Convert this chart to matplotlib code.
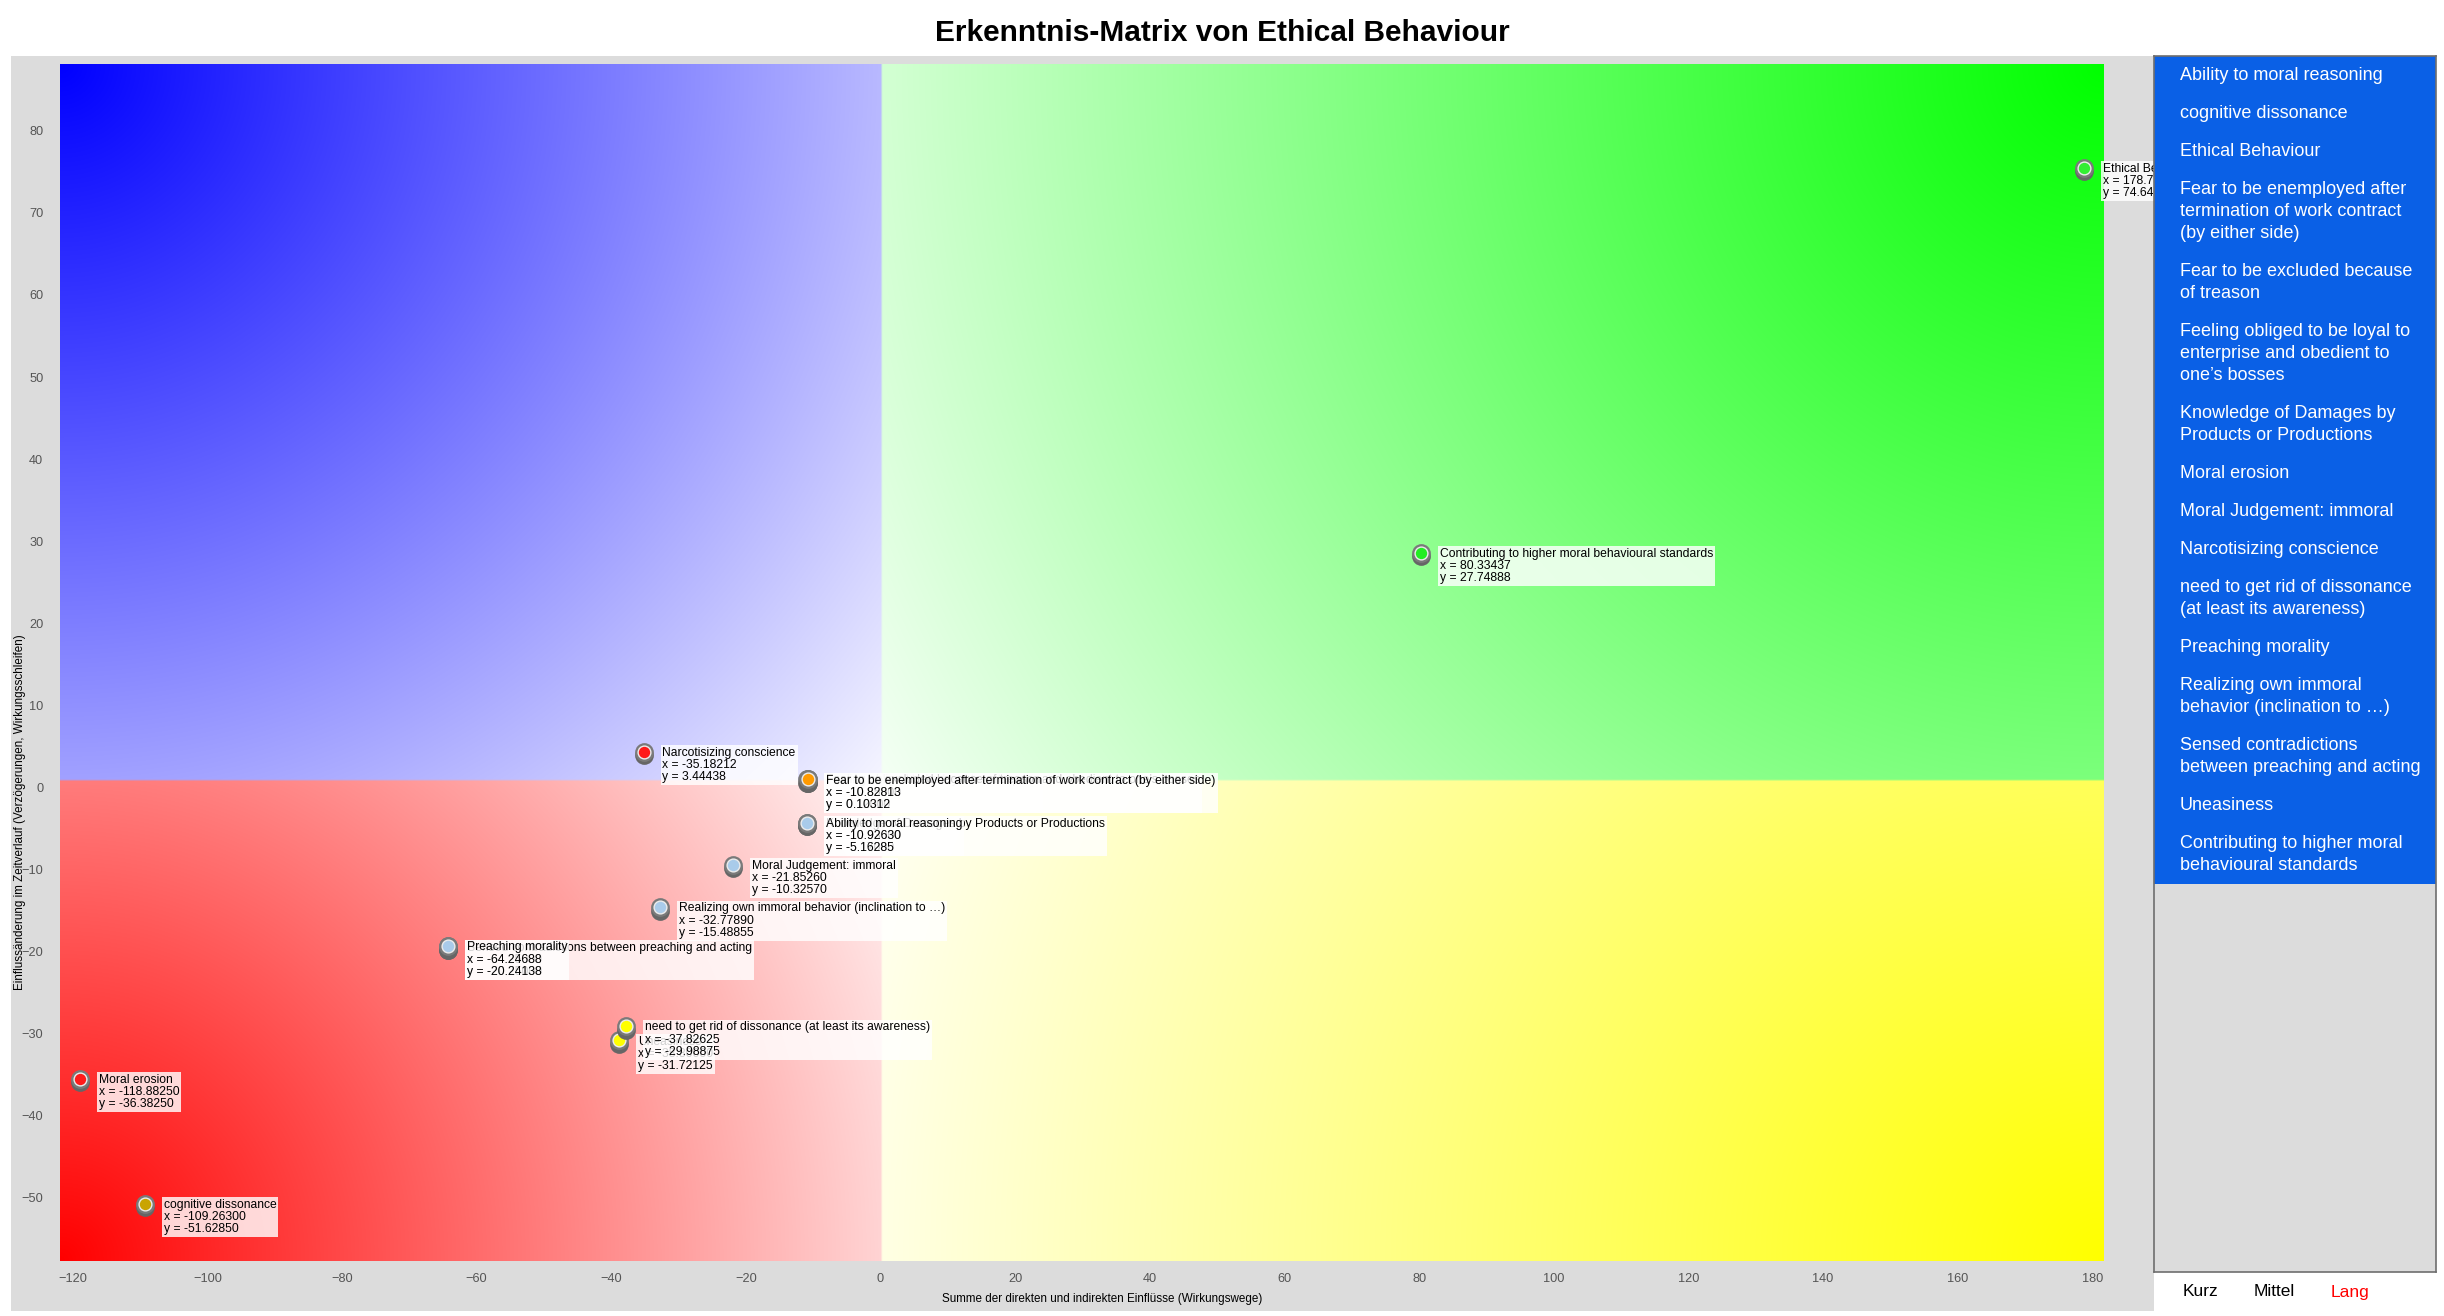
import matplotlib
matplotlib.use('Agg')
import matplotlib.pyplot as plt
import numpy as np
from matplotlib.patches import Rectangle
from matplotlib.transforms import offset_copy, ScaledTranslation

plt.rcParams['font.family'] = ['Liberation Sans', 'DejaVu Sans']

W, H = 2444, 1316

# factors of the matrix (legend order)
names = [
    'Ability to moral reasoning',
    'cognitive dissonance',
    'Ethical Behaviour',
    'Fear to be enemployed after termination of work contract (by either side)',
    'Fear to be excluded because of treason',
    'Feeling obliged to be loyal to enterprise and obedient to one\u2019s bosses',
    'Knowledge of Damages by Products or Productions',
    'Moral erosion',
    'Moral Judgement: immoral',
    'Narcotisizing conscience',
    'need to get rid of dissonance (at least its awareness)',
    'Preaching morality',
    'Realizing own immoral behavior (inclination to \u2026)',
    'Sensed contradictions between preaching and acting',
    'Uneasiness',
    'Contributing to higher moral behavioural standards',
]
x_vals = [-10.92630, -109.26300, 178.73, -10.82813, -10.85, -10.86, -10.93,
          -118.88250, -21.85260, -35.18212, -37.82625, -64.24688, -32.77890,
          -64.25, -38.80, 80.33437]
y_vals = [-5.16285, -51.62850, 74.64, 0.10312, 0.12, 0.11, -5.17,
          -36.38250, -10.32570, 3.44438, -29.98875, -20.24138, -15.48855,
          -20.25, -31.72125, 27.74888]
dot_colors = ['#a9cbea', '#c9a400', '#33ee33', '#ff9a00', '#ff9a00', '#ff9a00', '#a9cbea',
              '#ff1a1a', '#a9cbea', '#ff1a1a', '#ffff00', '#a9cbea', '#a9cbea',
              '#a9cbea', '#ffff00', '#22ee22']

legend_text = [
    'Ability to moral reasoning',
    'cognitive dissonance',
    'Ethical Behaviour',
    'Fear to be enemployed after\ntermination of work contract\n(by either side)',
    'Fear to be excluded because\nof treason',
    'Feeling obliged to be loyal to\nenterprise and obedient to\none\u2019s bosses',
    'Knowledge of Damages by\nProducts or Productions',
    'Moral erosion',
    'Moral Judgement: immoral',
    'Narcotisizing conscience',
    'need to get rid of dissonance\n(at least its awareness)',
    'Preaching morality',
    'Realizing own immoral\nbehavior (inclination to \u2026)',
    'Sensed contradictions\nbetween preaching and acting',
    'Uneasiness',
    'Contributing to higher moral\nbehavioural standards',
]
scale_labels = ['Kurz', 'Mittel', 'Lang']
scale_colors = ['black', 'black', 'red']

title = 'Erkenntnis-Matrix von Ethical Behaviour'
xlabel = 'Summe der direkten und indirekten Einfl\u00fcsse (Wirkungswege)'
ylabel = 'Einflussänderung im Zeitverlauf (Verzögerungen, Wirkungsschleifen)'
x_ticks = np.arange(-120, 181, 20)
y_ticks = np.arange(-50, 81, 10)
xlim = (min(x_vals) - 3, max(x_vals) + 3)
ylim = (-58.6, 87.3)


def fx(px):
    return px / W


def fy(py):
    return 1 - py / H


fig = plt.figure(figsize=(W / 100, H / 100), dpi=100)
fig.add_artist(Rectangle((fx(11), fy(1311)), fx(2154) - fx(11), fy(56) - fy(1311),
                         transform=fig.transFigure, fc='#dcdcdc', ec='none', zorder=0))

ax_l, ax_r, ax_t, ax_b = 60, 2104, 64, 1261
ax = fig.add_axes([fx(ax_l), fy(ax_b), fx(ax_r) - fx(ax_l), fy(ax_t) - fy(ax_b)])
ax.set_xlim(xlim)
ax.set_ylim(ylim)

# quadrant backgrounds: radial fade from the outer corner towards the origin
pw = (ax_r - ax_l) / (xlim[1] - xlim[0])
ph = (ax_b - ax_t) / (ylim[1] - ylim[0])
gx = np.linspace(xlim[0], xlim[1], 1000)
gy = np.linspace(ylim[0], ylim[1], 600)
X, Y = np.meshgrid(gx, gy)
img = np.ones(X.shape + (3,))
quads = [
    ((X < 0) & (Y >= 0), (xlim[0], ylim[1]), (0, 0, 1)),
    ((X >= 0) & (Y >= 0), (xlim[1], ylim[1]), (0, 1, 0)),
    ((X < 0) & (Y < 0), (xlim[0], ylim[0]), (1, 0, 0)),
    ((X >= 0) & (Y < 0), (xlim[1], ylim[0]), (1, 1, 0)),
]
for mask, (cx, cy), col in quads:
    d = np.hypot((X - cx) * pw, (Y - cy) * ph)
    R = 1.04 * np.hypot(cx * pw, cy * ph)
    t = np.clip(1 - d / R, 0, 1)
    for k in range(3):
        img[..., k] = np.where(mask, 1 - t * (1 - col[k]), img[..., k])
ax.imshow(img, extent=[xlim[0], xlim[1], ylim[0], ylim[1]], origin='lower',
          aspect='auto', interpolation='bilinear', zorder=0)

shadow = offset_copy(ax.transData, fig=fig, x=0, y=-3.5, units='dots')
n = len(names)
for i in range(n):
    x, y = x_vals[i], y_vals[i]
    z = 10 + (n - i) * 3
    ax.plot(x, y, 'o', ms=13.5, color='#666666', mec='none', transform=shadow, zorder=z)
    ax.plot(x, y, 'o', ms=13.5, color='#7a7a7a', mec='none', zorder=z)
    ax.plot(x, y, 'o', ms=9.2, color=dot_colors[i], mec='#ececec', mew=1.0, zorder=z)
    ax.annotate(f'{names[i]}\nx = {x:.5f}\ny = {y:.5f}', (x, y),
                xytext=(13.5, 3.5), textcoords='offset points', ha='left', va='top',
                fontsize=8.7, linespacing=1.02, annotation_clip=False, zorder=z + 1,
                bbox=dict(boxstyle='square,pad=0.15', fc='white', ec='none', alpha=0.82))

ax.set_xticks(x_ticks)
ax.set_yticks(y_ticks)
ax.tick_params(axis='both', length=0, labelsize=9.2, labelcolor='#555555')
ax.tick_params(axis='x', pad=9)
ax.tick_params(axis='y', pad=12)
# the y tick labels sit slightly below their tick positions in the original
lab_shift = ScaledTranslation(0, -7 / 100, fig.dpi_scale_trans)
for lab in ax.get_yticklabels():
    lab.set_transform(lab.get_transform() + lab_shift)
for s in ax.spines.values():
    s.set_visible(False)

fig.text(fx(1102), fy(1299), xlabel, fontsize=8.4, ha='center', va='center')
fig.text(fx(20), fy(812), ylabel, fontsize=8.4, ha='center', va='center', rotation=90)
fig.text(fx(1222), fy(33), title, fontsize=21.5, weight='bold', ha='center', va='center')

# legend panel on the right
pax = fig.add_axes([fx(2154), fy(1272), fx(2436) - fx(2154), fy(56) - fy(1272)])
pax.set_zorder(5)
pax.set_facecolor('#dcdcdc')
pax.set_xlim(2154, 2436)
pax.set_ylim(1272, 56)
pax.set_xticks([])
pax.set_yticks([])
for s in pax.spines.values():
    s.set_color('#6e6e6e')
    s.set_linewidth(1.2)

ypos = 75
for item in legend_text:
    lines = item.split('\n')
    for j, line in enumerate(lines):
        pax.text(2180, ypos + 22 * j, line, color='white', fontsize=13, ha='left', va='center')
    ypos += 38 + 22 * (len(lines) - 1)
pax.add_patch(Rectangle((2154, 56), 282, ypos - 19 - 56, fc='#0a60e6', ec='none', zorder=0))

for lab, col, px in zip(scale_labels, scale_colors, [2200, 2274, 2350]):
    fig.text(fx(px), fy(1292), lab, color=col, fontsize=12.5, ha='center', va='center')

fig.savefig('out.png', dpi=100)
